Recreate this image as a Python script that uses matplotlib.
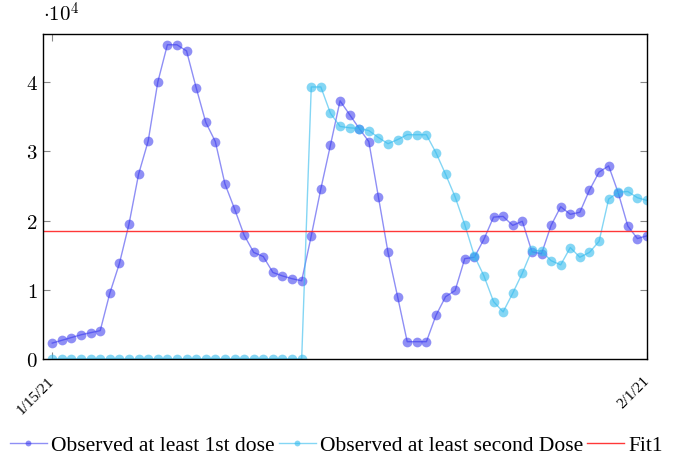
import numpy as np
import matplotlib
matplotlib.use("Agg")
import matplotlib.pyplot as plt

plt.rcParams["font.family"] = ["Liberation Serif", "DejaVu Serif"]
plt.rcParams["mathtext.fontset"] = "cm"

# observed doses (63 samples between 1/15/21 and 2/1/21)
first_dose = [2300, 2700, 3100, 3500, 3800, 4100, 9500, 13800, 19500, 26700,
              31500, 40000, 45400, 45400, 44500, 39200, 34200, 31400, 25300, 21700,
              17900, 15400, 14800, 12500, 12000, 11600, 11300, 17800, 24600, 30900,
              37300, 35300, 33300, 31400, 23400, 15400, 9000, 2500, 2500, 2500,
              6300, 9000, 9900, 14500, 14700, 17300, 20500, 20600, 19300, 19900,
              15500, 15200, 19300, 22000, 20900, 21200, 24400, 27000, 27900, 24000,
              19200, 17400, 17800]
second_dose = [0] * 27 + [39300, 39300, 35500, 33600, 33400, 33300, 33000, 32000,
               31100, 31700, 32400, 32400, 32400, 29800, 26700, 23400, 19400,
               14900, 12000, 8300, 6800, 9500, 12400, 15700, 15600, 14200, 13600,
               16100, 14700, 15400, 17000, 23100, 24100, 24200, 23300, 22900]
fit1 = 18500
x_labels = ["1/15/21", "2/1/21"]

x = np.arange(len(first_dose))

fig = plt.figure(figsize=(6.73, 4.60), dpi=100)
ax = fig.add_axes([0.0634, 0.2174, 0.898, 0.7072])

ax.plot(x, first_dose, color="#3333ee", alpha=0.55, lw=1.0, marker="o", ms=7,
        mec="none", label="Observed at least 1st dose")
ax.plot(x, second_dose, color="#33bbee", alpha=0.6, lw=1.0, marker="o", ms=7,
        mec="none", label="Observed at least second Dose")
ax.axhline(fit1, color="#ff2222", lw=1.0, alpha=0.9, label="Fit1")

ax.set_xlim(-1, 62)
ax.set_ylim(0, 47000)
ax.set_yticks([0, 10000, 20000, 30000, 40000])
ax.set_yticklabels(["$%d$" % v for v in range(5)], fontsize=15)
ax.set_xticks([0, 62])
ax.set_xticklabels(x_labels, rotation=45, ha="right", va="center",
                   rotation_mode="anchor", fontsize=11)
ax.tick_params(direction="in", color="#888888", length=5, top=True, right=True)
ax.tick_params(axis="x", pad=14)
for s in ax.spines.values():
    s.set_linewidth(1.0)
ax.text(0.0, 1.025, r"$\cdot 10^{4}$", transform=ax.transAxes, fontsize=15,
        ha="left", va="bottom")

leg = fig.legend(loc="center", bbox_to_anchor=(0.5, 0.03), ncol=3, frameon=False,
                 fontsize=15.5, handlelength=1.7, handletextpad=0.2, columnspacing=0.2,
                 markerscale=0.6, borderaxespad=0, borderpad=0)

fig.savefig("out.png", dpi=100)
